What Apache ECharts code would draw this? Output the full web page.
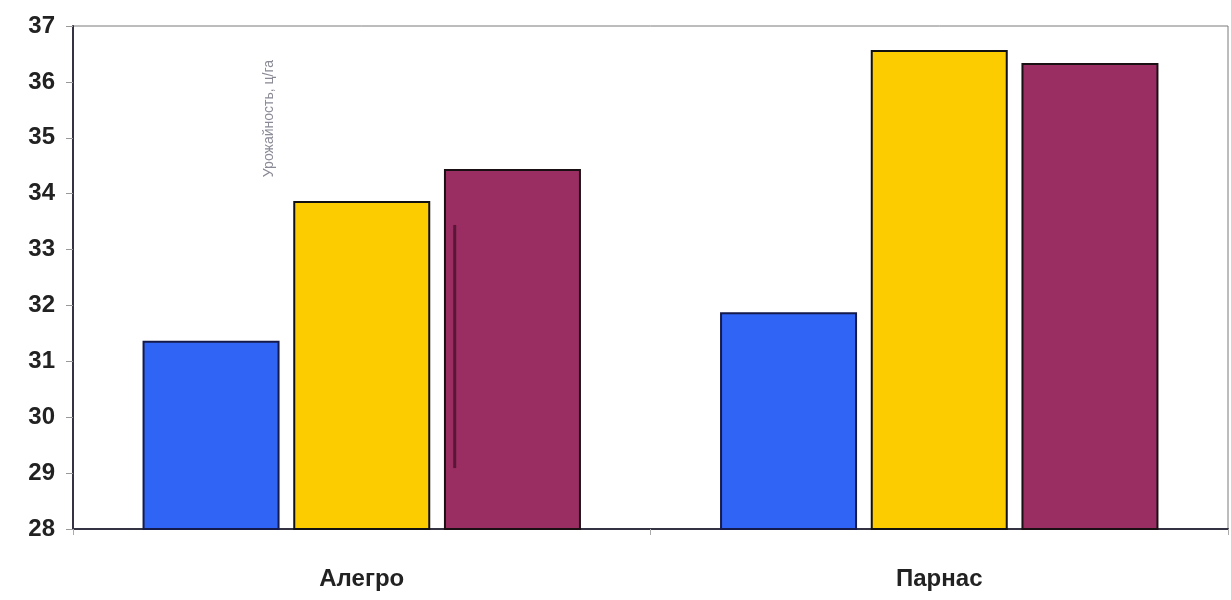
<!DOCTYPE html>
<html>
<head>
<meta charset="utf-8">
<script src="https://cdn.jsdelivr.net/npm/echarts@6/dist/echarts.min.js"></script>
<style>
  html, body { margin: 0; padding: 0; background: #ffffff; }
  #chart { width: 1231px; height: 600px; }
</style>
</head>
<body>
<div id="chart"></div>
<script>
// Varieties on the x axis
const categories = ['Алегро', 'Парнас'];
// Three series per variety (blue, yellow, maroon)
const seriesBlue = [31.37, 31.88];
const seriesYellow = [33.87, 36.57];
const seriesMaroon = [34.44, 36.34];
// Vertical range line drawn inside the maroon Алегро bar: [category, low, high]
const rangeLine = [[0, 29.09, 33.44]];
// Value axis
const yMin = 28, yMax = 37, yStep = 1;
const axisNote = 'Урожайность, ц/га';

const chart = echarts.init(document.getElementById('chart'));
const font = '"Liberation Sans Narrow", "Liberation Sans", Arial, sans-serif';

function barSeries(name, data, color, border) {
  return {
    name, type: 'bar', data,
    barWidth: 137,
    barGap: '10%',
    itemStyle: { color, borderColor: border, borderWidth: 2 }
  };
}

chart.setOption({
  animation: false,
  backgroundColor: '#ffffff',
  grid: {
    left: 73, right: 3, top: 26, bottom: 71,
    show: true, borderColor: '#7a7a7a', borderWidth: 1, backgroundColor: 'transparent'
  },
  xAxis: {
    type: 'category',
    data: categories,
    axisLine: { lineStyle: { color: '#333344', width: 2 } },
    axisTick: { show: true, length: 6, lineStyle: { color: '#aaaaaa' } },
    axisLabel: { color: '#222222', fontSize: 24, fontFamily: font, fontWeight: 'bold', margin: 38 }
  },
  yAxis: {
    type: 'value',
    min: yMin, max: yMax, interval: yStep,
    splitLine: { show: false },
    axisLine: { show: true, lineStyle: { color: '#333344', width: 2 } },
    axisTick: { show: true, length: 7, lineStyle: { color: '#999999' } },
    axisLabel: {
      color: '#222222', fontSize: 24, fontFamily: font, fontWeight: 'bold',
      margin: 18, padding: [8, 0, 0, 0]
    }
  },
  series: [
    barSeries('s1', seriesBlue, '#2f64f4', '#141a4a'),
    barSeries('s2', seriesYellow, '#fccb00', '#111111'),
    barSeries('s3', seriesMaroon, '#9a2e62', '#1a1014'),
    {
      type: 'custom',
      data: rangeLine,
      z: 5,
      renderItem: function (params, api) {
        const top = api.coord([api.value(0), api.value(2)]);
        const bottom = api.coord([api.value(0), api.value(1)]);
        const band = api.size([1, 0])[0];
        const x = top[0] + band * 0.161;
        return {
          type: 'line',
          shape: { x1: x, y1: top[1], x2: x, y2: bottom[1] },
          style: { stroke: '#5a1636', lineWidth: 3 }
        };
      }
    }
  ],
  graphic: [{
    type: 'text',
    left: 262, top: 60,
    rotation: Math.PI / 2,
    originX: 0, originY: 0,
    style: { text: axisNote, fill: '#8a8a96', fontSize: 14, fontFamily: font }
  }]
});
</script>
</body>
</html>
